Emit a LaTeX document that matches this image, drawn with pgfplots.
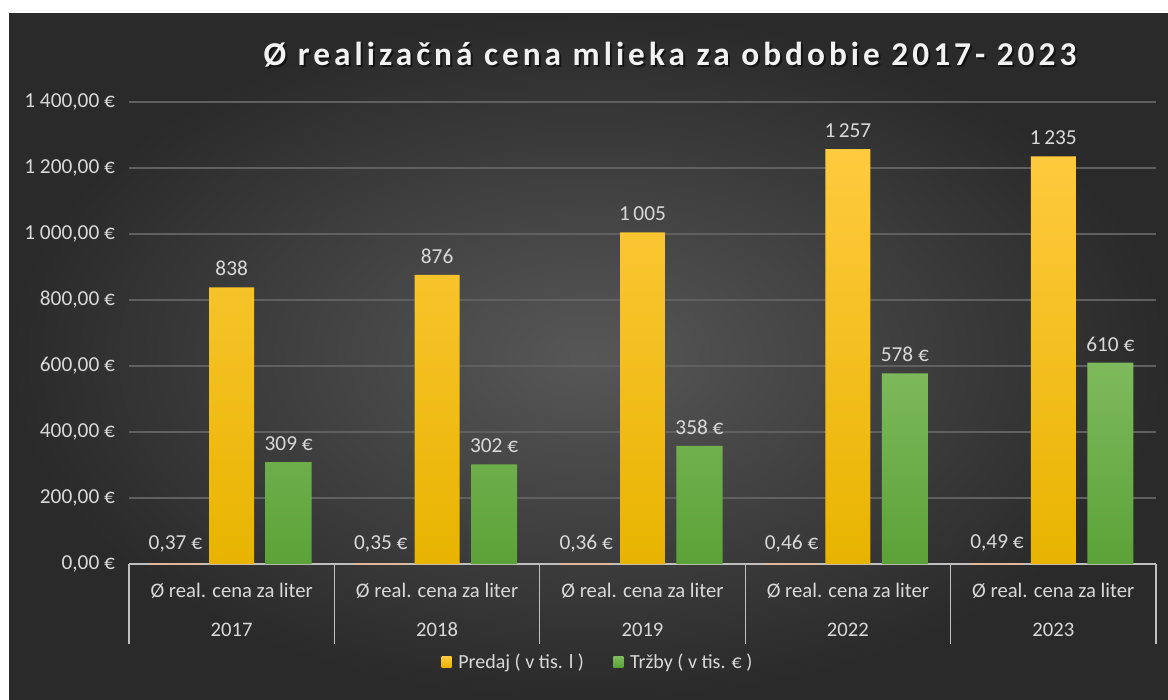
\documentclass[border=0pt]{standalone}
\usepackage{pgfplots}
\pgfplotsset{compat=1.18}
\usepackage{fontspec}
\setmainfont{Carlito}
\newfontfamily\titlefont[LetterSpace=12]{Carlito}
\definecolor{lbl}{HTML}{D9D9D9}
\definecolor{gridc}{HTML}{606060}
\definecolor{sepc}{HTML}{BFBFBF}
\definecolor{bgin}{HTML}{575757}
\definecolor{bgout}{HTML}{2A2A2A}
\definecolor{ytop}{HTML}{FFCA3E}
\definecolor{ybot}{HTML}{E8B400}
\definecolor{gtop}{HTML}{7EBA5D}
\definecolor{gbot}{HTML}{5CA238}
\definecolor{tiny}{HTML}{E3B79A}
\begin{document}
\begin{tikzpicture}[x=0.75pt,y=0.75pt]
\fill[white] (0,0) rectangle (1168,700);
\shade[inner color=bgin, outer color=bgout] (9,0) rectangle (1168,686);
\node[text=black, opacity=0.55] at (672,643) {\fontsize{25}{30}\selectfont\titlefont\bfseries Ø realizačná cena mlieka za obdobie 2017- 2023};
\node[text=white!95!black] at (670,645) {\fontsize{25}{30}\selectfont\titlefont\bfseries Ø realizačná cena mlieka za obdobie 2017- 2023};
\begin{axis}[
  at={(96.75pt,102pt)}, anchor=south west,
  scale only axis, width=770.25pt, height=346.5pt,
  ybar,
  xmin=-0.5, xmax=4.5, ymin=0, ymax=1400,
  enlargelimits=false,
  axis x line*=bottom, axis y line*=left,
  x axis line style={draw=sepc, line width=1pt},
  y axis line style={draw=none},
  ymajorgrids, grid style={draw=gridc, line width=0.8pt},
  major tick length=0pt,
  ytick={0,200,...,1400},
  yticklabels={{0,00~€},{200,00~€},{400,00~€},{600,00~€},{800,00~€},{1~000,00~€},{1~200,00~€},{1~400,00~€}},
  yticklabel style={font=\fontsize{16}{18}\selectfont, text=lbl, xshift=-7pt},
  xtick={0,1,2,3,4},
  xticklabels={{Ø real. cena za liter\\[10.5pt]2017},{Ø real. cena za liter\\[10.5pt]2018},{Ø real. cena za liter\\[10.5pt]2019},{Ø real. cena za liter\\[10.5pt]2022},{Ø real. cena za liter\\[10.5pt]2023}},
  xticklabel style={font=\fontsize{15.5}{18.6}\selectfont, text=lbl, align=center, yshift=-11pt},
  extra x ticks={-0.5,0.5,1.5,2.5,3.5,4.5},
  extra x tick labels={},
  extra x tick style={grid=none, tick align=outside, major tick length=60pt, tick style={draw=sepc, line width=1pt}},
  /pgf/number format/assume math mode=true,
  every node near coord/.append style={font=\fontsize{16}{18}\selectfont, text=lbl, yshift=5pt},
  legend style={at={(0.457,-0.212)}, anchor=center, legend columns=2, draw=none, fill=none, text=lbl, font=\fontsize{15}{17}\selectfont,
    /tikz/column 2/.style={column sep=20pt},
    /tikz/every odd column/.append style={column sep=3pt}},
  legend image code/.code={\fill[#1] (0pt,-4pt) rectangle (7.5pt,4pt);},
]
\addplot[bar width=0.25, bar shift=-0.274, fill=tiny, draw=tiny, line width=1.5pt, forget plot,
  nodes near coords={\pgfmathprintnumber[fixed,zerofill,precision=2,use comma]{\pgfplotspointmeta}~€}]
  coordinates {(0,0.37) (1,0.35) (2,0.36) (3,0.46) (4,0.49)};
\addplot[bar width=0.219, bar shift=0, draw=none, top color=ytop, bottom color=ybot,
  nodes near coords={\pgfmathprintnumber[fixed,precision=0,1000 sep={\,}]{\pgfplotspointmeta}}]
  coordinates {(0,838) (1,876) (2,1005) (3,1257) (4,1235)};
\addlegendentry{Predaj ( v tis. l )}
\addplot[bar width=0.224, bar shift=0.2775, draw=none, top color=gtop, bottom color=gbot,
  nodes near coords={\pgfmathprintnumber[fixed,precision=0]{\pgfplotspointmeta}~€}]
  coordinates {(0,309) (1,302) (2,358) (3,578) (4,610)};
\addlegendentry{Tržby ( v tis. € )}
\end{axis}
\end{tikzpicture}
\end{document}
